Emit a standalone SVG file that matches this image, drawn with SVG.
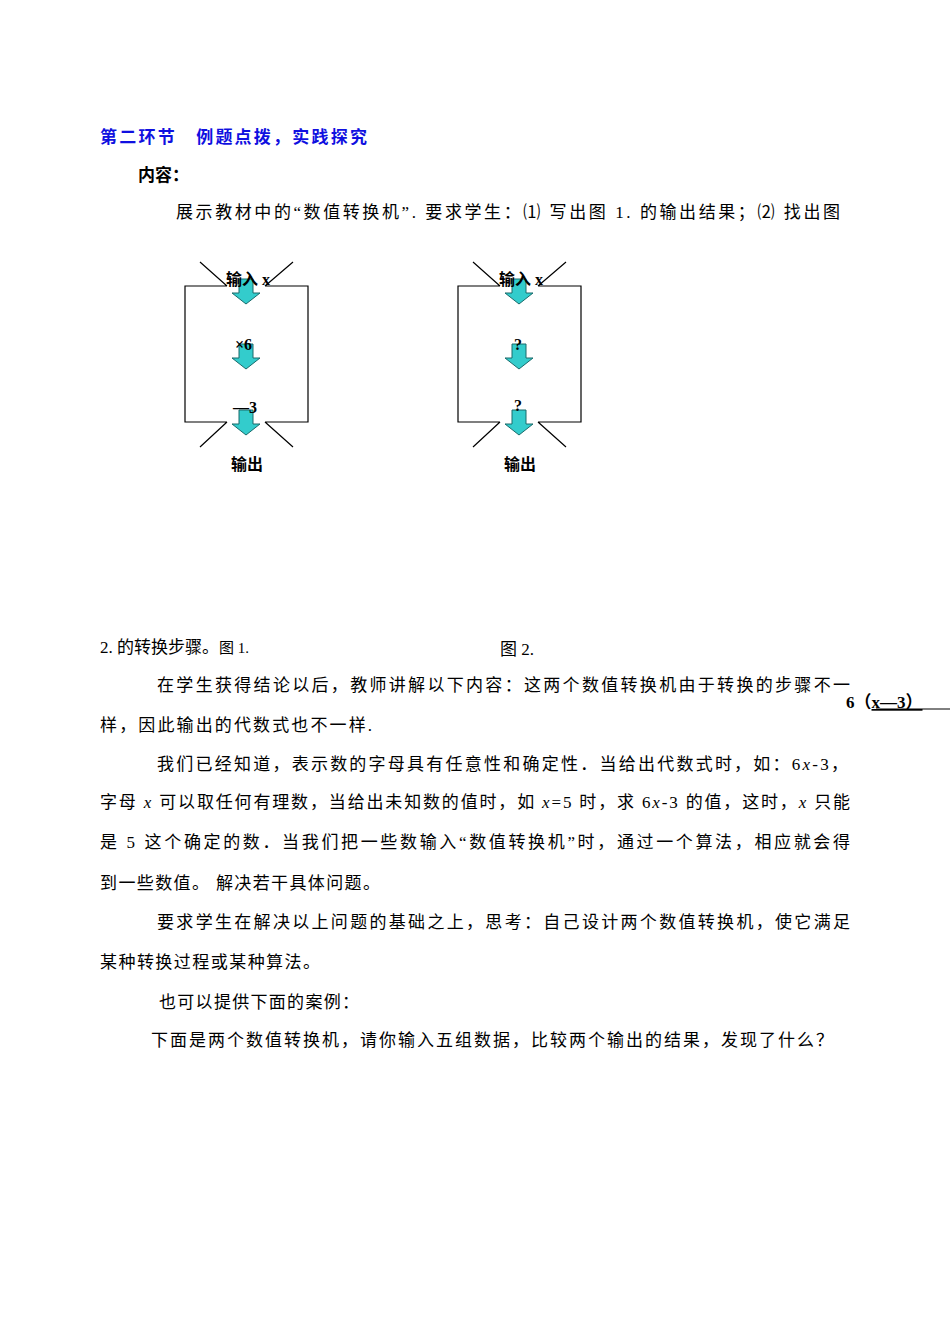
<svg xmlns="http://www.w3.org/2000/svg" width="950" height="1344" viewBox="0 0 950 1344">
<style>
.t{font-family:"Liberation Serif","Noto Sans CJK SC",serif;font-size:17px;fill:#000}
.b{font-weight:bold}
.h{font-family:"Liberation Sans","Noto Sans CJK SC",sans-serif;font-size:17px;font-weight:bold;fill:#1010e0}
.f{fill:none;stroke:#000;stroke-width:1.2}
.ar{fill:#33cccc;stroke:#1a6b6b;stroke-width:1}
.l{font-family:"Liberation Serif","Noto Sans CJK SC",serif;font-size:16px;font-weight:bold;fill:#000}
</style>
<defs>
<path id="arr" class="ar" d="M-7,0 H7 V14 H14 L0,25 L-14,14 H-7 Z"/>
</defs>
<rect width="950" height="1344" fill="#fff"/>
<text class="h" x="100" y="143" textLength="267" lengthAdjust="spacing">第二环节　例题点拨，实践探究</text>
<text class="t b" x="138" y="181">内容：</text>
<text class="t" x="176" y="218" textLength="664" lengthAdjust="spacing">展示教材中的“数值转换机”. 要求学生：⑴ 写出图 1. 的输出结果；⑵ 找出图</text>
<g id="machine1">
<path class="f" d="M227,286 H185 V422 H227 M265,286 H308 V422 H265 M200,262 L227,286 M293,262 L265,286 M227,422 L200,447 M265,422 L293,447"/>
<use href="#arr" x="246" y="279"/>
<use href="#arr" x="246" y="344"/>
<use href="#arr" x="246" y="410"/>
<text class="l" x="226" y="285">输入 x</text>
<text class="l" x="235" y="350" font-size="17">×6</text>
<text class="l" x="233" y="413" font-size="18">—3</text>
<text class="l" x="231" y="470">输出</text>
</g>
<g id="machine2">
<path class="f" d="M500,286 H458 V422 H500 M538,286 H581 V422 H538 M473,262 L500,286 M566,262 L538,286 M500,422 L473,447 M538,422 L566,447"/>
<use href="#arr" x="519" y="279"/>
<use href="#arr" x="519" y="344"/>
<use href="#arr" x="519" y="410"/>
<text class="l" x="499" y="285">输入 x</text>
<text class="l" x="514" y="350">?</text>
<text class="l" x="514" y="411">?</text>
<text class="l" x="504" y="470">输出</text>
</g>
<text class="t" x="100" y="653">2. 的转换步骤。<tspan font-size="15">图 1.</tspan></text>
<text class="t" x="500" y="655" font-size="15">图 2.</text>
<text class="t" x="157" y="691" textLength="693" lengthAdjust="spacing">在学生获得结论以后，教师讲解以下内容：这两个数值转换机由于转换的步骤不一</text>
<text class="t b" x="846" y="708">6（<tspan text-decoration="underline">x—3）</tspan></text>
<line x1="876" y1="709" x2="950" y2="709" stroke="#000" stroke-width="1"/>
<text class="t" x="100" y="731" textLength="272" lengthAdjust="spacing">样，因此输出的代数式也不一样.</text>
<text class="t" x="157" y="770" textLength="691" lengthAdjust="spacing">我们已经知道，表示数的字母具有任意性和确定性．当给出代数式时，如：6<tspan font-style="italic">x</tspan>-3，</text>
<text class="t" x="100" y="808" textLength="750" lengthAdjust="spacing">字母 <tspan font-style="italic">x</tspan> 可以取任何有理数，当给出未知数的值时，如 <tspan font-style="italic">x</tspan>=5 时，求 6<tspan font-style="italic">x</tspan>-3 的值，这时，<tspan font-style="italic">x</tspan> 只能</text>
<text class="t" x="100" y="848" textLength="750" lengthAdjust="spacing">是 5 这个确定的数．当我们把一些数输入“数值转换机”时，通过一个算法，相应就会得</text>
<text class="t" x="100" y="889" textLength="280" lengthAdjust="spacing">到一些数值。 解决若干具体问题。</text>
<text class="t" x="157" y="928" textLength="693" lengthAdjust="spacing">要求学生在解决以上问题的基础之上，思考：自己设计两个数值转换机，使它满足</text>
<text class="t" x="100" y="968" textLength="220" lengthAdjust="spacing">某种转换过程或某种算法。</text>
<text class="t" x="159" y="1008" textLength="200" lengthAdjust="spacing">也可以提供下面的案例：</text>
<text class="t" x="151" y="1046" textLength="682" lengthAdjust="spacing">下面是两个数值转换机，请你输入五组数据，比较两个输出的结果，发现了什么？</text>
</svg>
